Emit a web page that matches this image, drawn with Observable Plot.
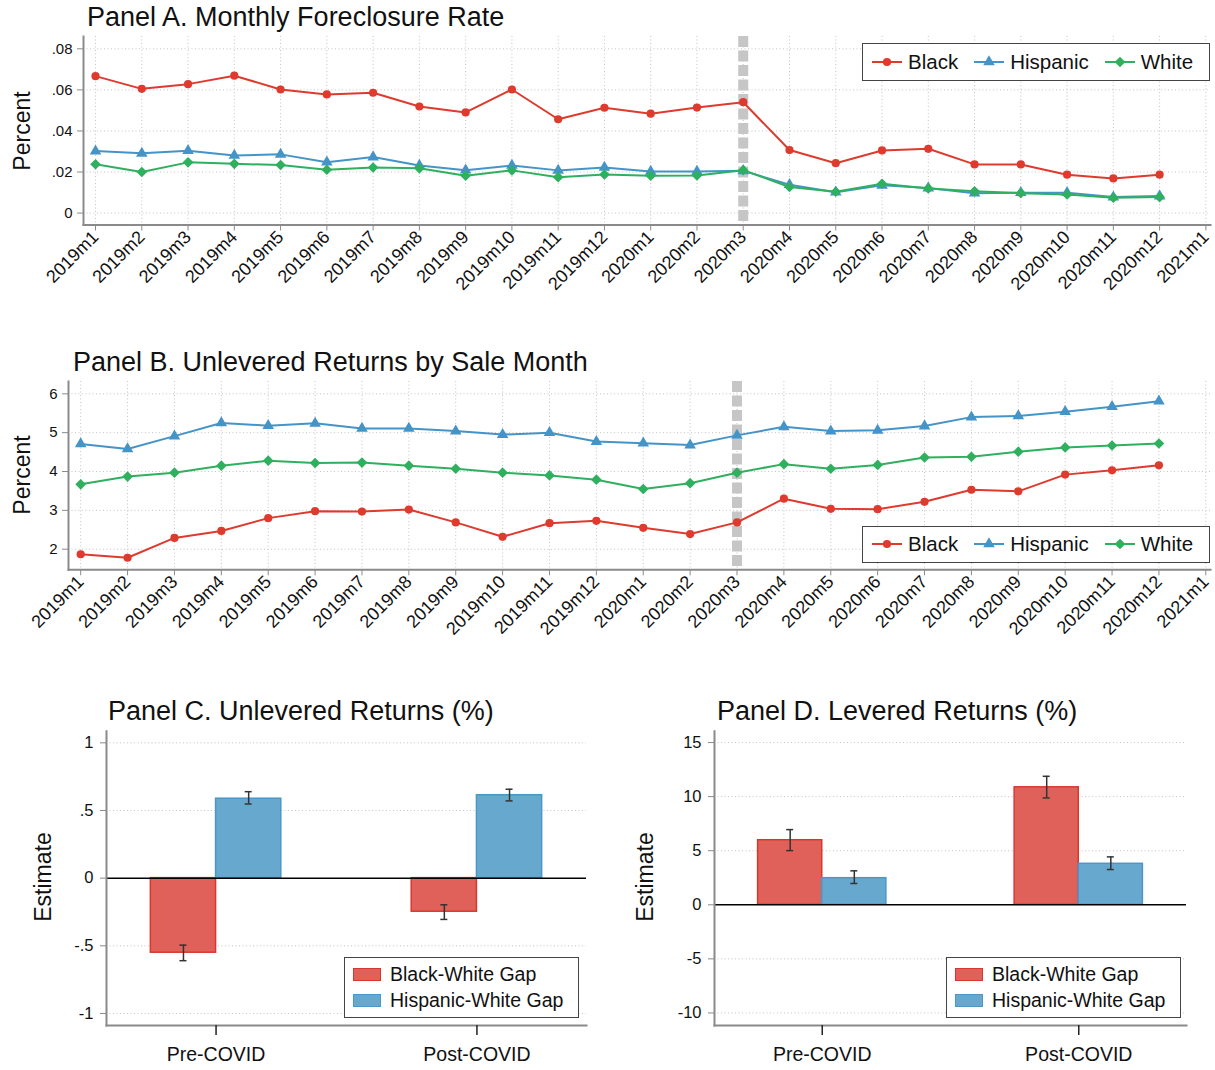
<!DOCTYPE html>
<html><head><meta charset="utf-8">
<script src="https://cdn.jsdelivr.net/npm/d3@7"></script>
<script src="https://cdn.jsdelivr.net/npm/@observablehq/plot@0.6"></script>
<style>
body{margin:0;background:#fff;}
#root{position:relative;width:1215px;height:1070px;font-family:"Liberation Sans",Arial,Helvetica,sans-serif;color:#111;overflow:hidden;background:#fff;}
.title{font-size:27px;line-height:1;white-space:nowrap;}
.ylab{font-size:23px;line-height:1;white-space:nowrap;transform:translate(-50%,-50%) rotate(-90deg);}
.legend{border:1px solid #444;box-sizing:border-box;background:#fff;display:flex;}
.legend .txt{font-size:20.5px;line-height:1;white-space:nowrap;}
</style></head><body><div id="root"></div>
<script>
// ---------- data ----------
const months = ["2019m1","2019m2","2019m3","2019m4","2019m5","2019m6","2019m7","2019m8","2019m9","2019m10","2019m11","2019m12",
                "2020m1","2020m2","2020m3","2020m4","2020m5","2020m6","2020m7","2020m8","2020m9","2020m10","2020m11","2020m12"];
const xTickLabels = [...months, "2021m1"];
const groups = ["Black","Hispanic","White"];
const covidMonth = "2020m3";

const foreclosureBlack    = [.0667,.0605,.0628,.0669,.0602,.0578,.0586,.0519,.0490,.0602,.0457,.0513,.0484,.0514,.0540,.0307,.0243,.0305,.0313,.0237,.0237,.0187,.0169,.0187];
const foreclosureHispanic = [.0302,.0291,.0304,.0281,.0286,.0248,.0273,.0232,.0209,.0232,.0208,.0222,.0203,.0203,.0206,.0138,.0102,.0135,.0122,.0097,.0099,.0099,.0078,.0083];
const foreclosureWhite    = [.0238,.0200,.0247,.0240,.0234,.0211,.0222,.0218,.0182,.0208,.0175,.0188,.0182,.0183,.0209,.0127,.0104,.0143,.0120,.0106,.0097,.0091,.0075,.0078];

const returnsBlack    = [1.87,1.78,2.29,2.47,2.80,2.98,2.97,3.02,2.69,2.32,2.67,2.73,2.55,2.39,2.69,3.30,3.04,3.03,3.22,3.53,3.49,3.92,4.03,4.16];
const returnsHispanic = [4.71,4.58,4.91,5.25,5.18,5.24,5.11,5.11,5.04,4.95,5.00,4.77,4.73,4.68,4.93,5.15,5.04,5.06,5.17,5.40,5.43,5.54,5.67,5.81];
const returnsWhite    = [3.67,3.87,3.97,4.15,4.28,4.22,4.23,4.15,4.07,3.97,3.90,3.79,3.55,3.70,3.97,4.19,4.07,4.17,4.36,4.38,4.51,4.62,4.67,4.72];

const periods = ["Pre-COVID","Post-COVID"];
const gapSeries = ["Black-White Gap","Hispanic-White Gap"];
const unlevBW = [-0.551,-0.248], unlevBWlo = [-0.610,-0.305], unlevBWhi = [-0.495,-0.197];
const unlevHW = [0.587,0.613],   unlevHWlo = [0.548,0.571],   unlevHWhi = [0.639,0.657];
const levBW = [5.97,10.86], levBWlo = [5.01,9.88], levBWhi = [6.95,11.88];
const levHW = [2.46,3.79],  levHWlo = [1.97,3.26], levHWhi = [3.14,4.43];

const ticksA = [0,.02,.04,.06,.08];
const ticksB = [2,3,4,5,6];
const ticksC = [-1,-.5,0,.5,1];
const ticksD = [-10,-5,0,5,10,15];

// ---------- styles ----------
const FONT = '"Liberation Sans", Arial, Helvetica, sans-serif';
const colors = {Black:"#de3a2e", Hispanic:"#4494c8", White:"#2fb05e"};
const symbols = {Black:"circle", Hispanic:"triangle", White:"diamond2"};
const d3symbols = {Black:d3.symbolCircle, Hispanic:d3.symbolTriangle, White:(d3.symbolDiamond2||d3.symbolDiamond)};
const symR = {Black:4.1, Hispanic:4.3, White:4.8};
const barFill = {"Black-White Gap":"#e0615a","Hispanic-White Gap":"#67a8ce"};
const barStroke = {"Black-White Gap":"#d9372d","Hispanic-White Gap":"#4c96c8"};
const AXIS = "#8a8a8a";
const gridStyle = {stroke:"#c4c4c4", strokeOpacity:1, strokeWidth:1, strokeDasharray:"1,2.5"};
const fmt = d => String(d).replace(/^(-?)0\./, "$1.");

const root = document.getElementById("root");
function place(el, left, top){ el.style.position="absolute"; el.style.left=left+"px"; el.style.top=top+"px"; root.appendChild(el); return el; }
function textDiv(cls, str, left, top){ const d=document.createElement("div"); d.className=cls; d.textContent=str; return place(d,left,top); }

// ---------- line panels ----------
function linePanel({a, yDomain, yTicks, width, height, mt, mb, ml, mr}) {
  const rows = [];
  groups.forEach((g, gi) => a[gi].forEach((v, i) => rows.push({month: months[i], idx: i, v, group: g})));
  const marks = [
    Plot.gridY(yTicks, gridStyle),
    Plot.gridX(d3.range(xTickLabels.length), gridStyle),
    Plot.ruleX([months.indexOf(covidMonth)], {stroke:"#c6c6c6", strokeWidth:10, strokeDasharray:"11,3.5"})
  ];
  for (const g of groups) {
    const d = rows.filter(r => r.group === g);
    marks.push(Plot.line(d, {x:"idx", y:"v", stroke:colors[g], strokeWidth:2}));
    marks.push(Plot.dot(d, {x:"idx", y:"v", fill:colors[g], symbol:symbols[g], r:symR[g]}));
  }
  marks.push(
    Plot.frame({anchor:"left", stroke:AXIS, strokeWidth:2}),
    Plot.frame({anchor:"bottom", stroke:AXIS, strokeWidth:2}),
    Plot.axisY(yTicks, {tickSize:6, tickPadding:5, stroke:AXIS, fill:"#111", fontSize:15, tickFormat:fmt, label:null}),
    Plot.axisX(d3.range(xTickLabels.length), {tickSize:6, tickPadding:3, tickRotate:-45, stroke:AXIS, fill:"#111", fontSize:18, tickFormat:i => xTickLabels[i], label:null})
  );
  return Plot.plot({
    width, height, marginTop:mt, marginBottom:mb, marginLeft:ml, marginRight:mr,
    x:{type:"linear", domain:[-0.26, 24.1]},
    y:{type:"linear", domain:yDomain},
    style:{fontFamily:FONT, fontSize:"15px", color:"#111", background:"transparent", overflow:"visible"},
    marks
  });
}

function lineLegend(left, top, width, height) {
  const box = document.createElement("div");
  box.className = "legend";
  Object.assign(box.style, {width:width+"px", height:height+"px", paddingLeft:"9px", alignItems:"center"});
  groups.forEach((g) => {
    const item = document.createElement("div");
    item.style.cssText = "display:flex;align-items:center;margin-right:16px";
    const svg = d3.create("svg").attr("width",30).attr("height",16);
    svg.append("line").attr("x1",0).attr("x2",30).attr("y1",8).attr("y2",8).attr("stroke",colors[g]).attr("stroke-width",2);
    svg.append("path").attr("d", d3.symbol(d3symbols[g], Math.PI*symR[g]*symR[g])()).attr("transform","translate(15,8)").attr("fill",colors[g]);
    item.appendChild(svg.node());
    const t = document.createElement("span"); t.className="txt"; t.style.marginLeft="6px"; t.textContent=g;
    item.appendChild(t);
    box.appendChild(item);
  });
  return place(box, left, top);
}

// ---------- bar panels ----------
function barPanel({bw, bwLo, bwHi, hw, hwLo, hwHi, yDomain, yTicks, width, height, mt, mb, ml, mr}) {
  const pi = 0.5, po = 0.17;
  const step = (width - ml - mr) / (periods.length - pi + 2*po);
  const band = step * (1 - pi);
  const rows = [];
  periods.forEach((p, i) => {
    rows.push({period:p, series:gapSeries[0], est:bw[i], lo:bwLo[i], hi:bwHi[i]});
    rows.push({period:p, series:gapSeries[1], est:hw[i], lo:hwLo[i], hi:hwHi[i]});
  });
  const rBW = rows.filter(r => r.series === gapSeries[0]);
  const rHW = rows.filter(r => r.series === gapSeries[1]);
  const cap = 3.5;
  const errStyle = {stroke:"#333", strokeWidth:1.5};
  return Plot.plot({
    width, height, marginTop:mt, marginBottom:mb, marginLeft:ml, marginRight:mr,
    x:{type:"band", domain:periods, paddingInner:pi, paddingOuter:po, round:false},
    y:{type:"linear", domain:yDomain},
    style:{fontFamily:FONT, fontSize:"15px", color:"#111", background:"transparent", overflow:"visible"},
    marks:[
      Plot.gridY(yTicks.filter(t => t !== 0), gridStyle),
      Plot.barY(rBW, {x:"period", y:"est", fill:barFill[gapSeries[0]], stroke:barStroke[gapSeries[0]], strokeWidth:1.5, insetRight:band/2}),
      Plot.barY(rHW, {x:"period", y:"est", fill:barFill[gapSeries[1]], stroke:barStroke[gapSeries[1]], strokeWidth:1.5, insetLeft:band/2}),
      Plot.ruleY([0], {stroke:"#000", strokeWidth:1.5}),
      Plot.ruleX(rBW, {x:"period", y1:"lo", y2:"hi", dx:-band/4, ...errStyle}),
      Plot.ruleX(rHW, {x:"period", y1:"lo", y2:"hi", dx:band/4, ...errStyle}),
      Plot.tickY(rBW, {x:"period", y:"lo", insetLeft:band/4-cap, insetRight:3*band/4-cap, ...errStyle}),
      Plot.tickY(rBW, {x:"period", y:"hi", insetLeft:band/4-cap, insetRight:3*band/4-cap, ...errStyle}),
      Plot.tickY(rHW, {x:"period", y:"lo", insetLeft:3*band/4-cap, insetRight:band/4-cap, ...errStyle}),
      Plot.tickY(rHW, {x:"period", y:"hi", insetLeft:3*band/4-cap, insetRight:band/4-cap, ...errStyle}),
      Plot.frame({anchor:"left", stroke:AXIS, strokeWidth:2}),
      Plot.frame({anchor:"bottom", stroke:AXIS, strokeWidth:2}),
      Plot.axisY(yTicks, {tickSize:6, tickPadding:7, stroke:AXIS, fill:"#111", fontSize:16.5, tickFormat:fmt, label:null}),
      Plot.axisX(periods, {tickSize:10, tickPadding:12, stroke:"#222", strokeWidth:1.5, fill:"#111", fontSize:19.5, label:null})
    ]
  });
}

function barLegend(left, top, width, height) {
  const box = document.createElement("div");
  box.className = "legend";
  Object.assign(box.style, {width:width+"px", height:height+"px", flexDirection:"column", justifyContent:"center", paddingLeft:"8px", gap:"6px"});
  gapSeries.forEach(s => {
    const item = document.createElement("div");
    item.style.cssText = "display:flex;align-items:center;";
    const sw = document.createElement("div");
    sw.style.cssText = `width:26px;height:11px;background:${barFill[s]};border:1px solid ${barStroke[s]};`;
    item.appendChild(sw);
    const t = document.createElement("span"); t.className="txt"; t.style.marginLeft="9px"; t.style.fontSize="19.5px"; t.textContent=s;
    item.appendChild(t);
    box.appendChild(item);
  });
  return place(box, left, top);
}

// ---------- assemble ----------
place(linePanel({a:[foreclosureBlack, foreclosureHispanic, foreclosureWhite], yDomain:[-0.0058, 0.086], yTicks:ticksA,
  width:1215, height:310, mt:36, mb:85.5, ml:83, mr:5}), 0, 0);
place(linePanel({a:[returnsBlack, returnsHispanic, returnsWhite], yDomain:[1.47, 6.317], yTicks:ticksB,
  width:1215, height:330, mt:41, mb:100.7, ml:68, mr:5}), 0, 340);
place(barPanel({bw:unlevBW, bwLo:unlevBWlo, bwHi:unlevBWhi, hw:unlevHW, hwLo:unlevHWlo, hwHi:unlevHWhi,
  yDomain:[-1.089, 1.086], yTicks:ticksC, width:607, height:370, mt:30.7, mb:45, ml:106, mr:21}), 0, 700);
place(barPanel({bw:levBW, bwLo:levBWlo, bwHi:levBWhi, hw:levHW, hwLo:levHWlo, hwHi:levHWhi,
  yDomain:[-11.16, 16.05], yTicks:ticksD, width:608, height:370, mt:30.7, mb:45, ml:107, mr:29}), 607, 700);

textDiv("title", "Panel A. Monthly Foreclosure Rate", 87, 3.5);
textDiv("title", "Panel B. Unlevered Returns by Sale Month", 73, 348.5);
textDiv("title", "Panel C. Unlevered Returns (%)", 108, 697.5);
textDiv("title", "Panel D. Levered Returns (%)", 717, 697.5);

textDiv("ylab", "Percent", 22, 131);
textDiv("ylab", "Percent", 22, 475);
textDiv("ylab", "Estimate", 43, 877);
textDiv("ylab", "Estimate", 645, 877);

lineLegend(862, 43, 348, 38);
lineLegend(862, 525.5, 348, 37);
barLegend(344, 957, 235, 61);
barLegend(946, 957, 235, 61);
</script></body></html>
